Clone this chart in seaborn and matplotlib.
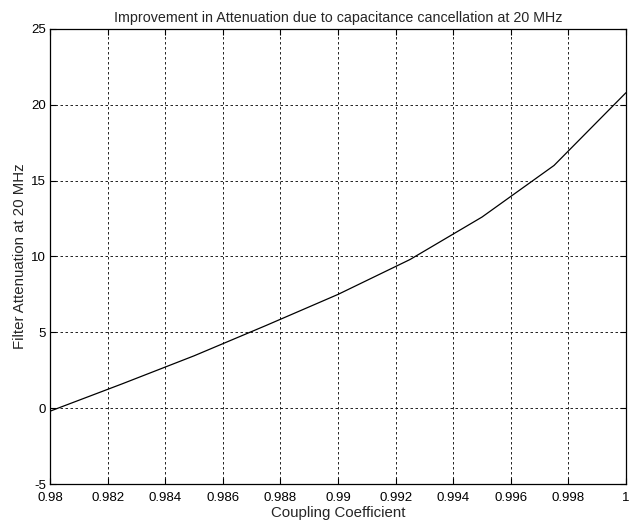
import numpy as np
import pandas as pd
from matplotlib import pyplot as plt
import seaborn as sns

# values
coupling = [0.98, 0.9825, 0.985, 0.9875, 0.99, 0.9925, 0.995, 0.9975, 1.0]
attenuation = [-0.2, 1.6, 3.45, 5.45, 7.5, 9.8, 12.6, 16.0, 20.8]
x_ticks = [0.98, 0.982, 0.984, 0.986, 0.988, 0.99, 0.992, 0.994, 0.996, 0.998, 1.0]
x_labels = ['0.98', '0.982', '0.984', '0.986', '0.988', '0.99', '0.992', '0.994',
            '0.996', '0.998', '1']
y_ticks = [-5, 0, 5, 10, 15, 20, 25]

sns.set_style('white')
plt.rcParams['font.family'] = ['Liberation Sans', 'DejaVu Sans']
plt.rcParams['axes.unicode_minus'] = False

df = pd.DataFrame({'k': coupling, 'att': attenuation})

fig = plt.figure(figsize=(6.32, 5.24), dpi=100)
ax = fig.add_axes([0.0791, 0.0763, 0.9114, 0.8684])
sns.lineplot(data=df, x='k', y='att', ax=ax, color='black', linewidth=0.9)

ax.set_xlim(0.98, 1.0)
ax.set_ylim(-5, 25)
ax.set_xticks(x_ticks)
ax.set_xticklabels(x_labels)
ax.set_yticks(y_ticks)
ax.grid(True, color='black', linestyle=(0, (3, 3)), linewidth=0.6)
ax.tick_params(direction='in', length=4, labelsize=9.5, colors='black',
               top=True, right=True, bottom=True, left=True)
ax.tick_params(axis='x', pad=6)
ax.tick_params(axis='y', pad=3)
for s in ax.spines.values():
    s.set_color('black')
    s.set_linewidth(0.9)

ax.set_xlabel('Coupling Coefficient', fontsize=10.8, labelpad=1)
ax.set_ylabel('Filter Attenuation at 20 MHz', fontsize=10.8, labelpad=3)
ax.set_title('Improvement in Attenuation due to capacitance cancellation at 20 MHz',
             fontsize=10.3, pad=5)

fig.savefig('out.png', dpi=100)
